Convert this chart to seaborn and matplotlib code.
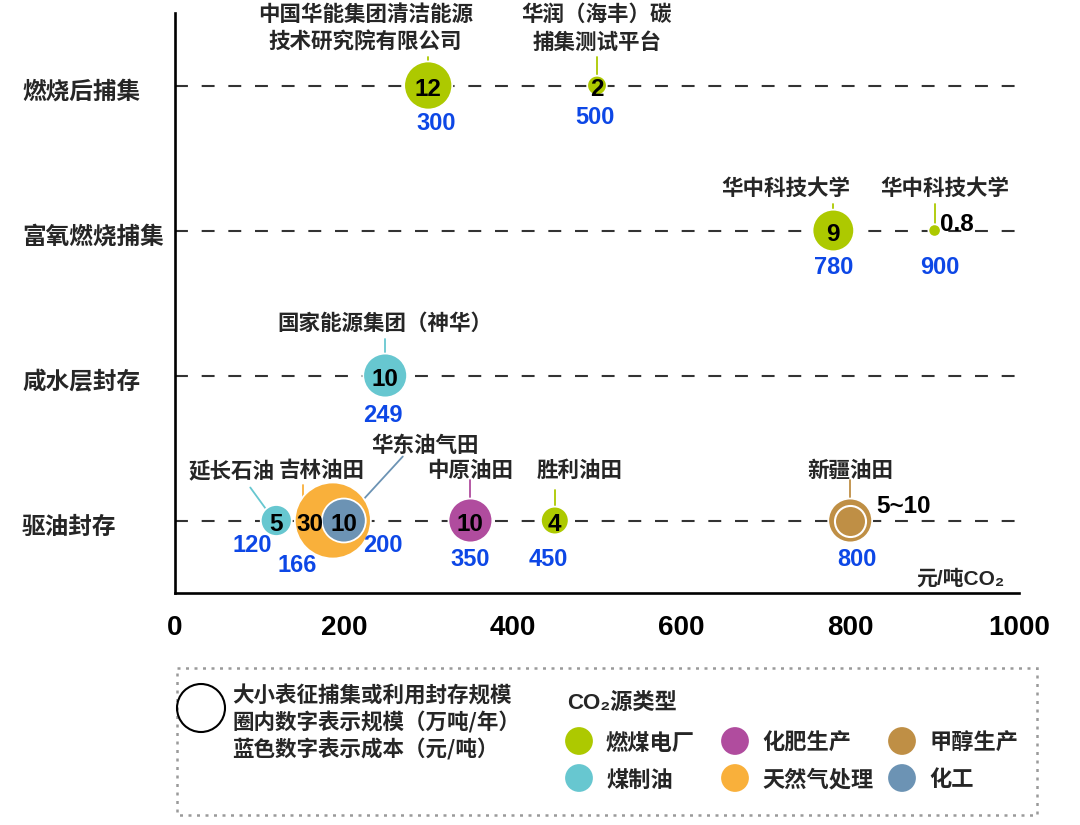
import numpy as np
import pandas as pd
import matplotlib
matplotlib.use("Agg")
import matplotlib.pyplot as plt
import matplotlib.transforms as mtransforms
from matplotlib.patches import Rectangle, Circle
import seaborn as sns

# ---- values ----
stages = ['燃烧后捕集', '富氧燃烧捕集', '咸水层封存', '驱油封存']
projects = ['中国华能集团清洁能源\n技术研究院有限公司', '华润（海丰）碳\n捕集测试平台',
            '华中科技大学', '华中科技大学', '国家能源集团（神华）',
            '延长石油', '吉林油田', '华东油气田', '中原油田', '胜利油田', '新疆油田']
project_stage = ['燃烧后捕集', '燃烧后捕集', '富氧燃烧捕集', '富氧燃烧捕集', '咸水层封存',
                 '驱油封存', '驱油封存', '驱油封存', '驱油封存', '驱油封存', '驱油封存']
source = ['燃煤电厂', '燃煤电厂', '燃煤电厂', '燃煤电厂', '煤制油',
          '煤制油', '天然气处理', '化工', '化肥生产', '燃煤电厂', '甲醇生产']
scale = [12, 2, 9, 0.8, 10, 5, 30, 10, 10, 4, 10]        # 万吨/年 (新疆 5~10 -> outer 10)
scale_label = ['12', '2', '9', '0.8', '10', '5', '30', '10', '10', '4', '5~10']
cost = [300, 500, 780, 900, 249, 120, 166, 200, 350, 450, 800]        # 元/吨
bubble_x = [300, 500, 780, 900, 249, 120, 187, 200, 350, 450, 800]    # bubble position on axis
xinjiang_low = 5

source_types = ['燃煤电厂', '化肥生产', '甲醇生产', '煤制油', '天然气处理', '化工']
source_colors = ['#adc900', '#b04c9e', '#bf8f45', '#67c7d0', '#f9b03b', '#6c93b4']
x_ticks = [0, 200, 400, 600, 800, 1000]

palette = dict(zip(source_types, source_colors))
stage_y = {s: len(stages) - i for i, s in enumerate(stages)}

df = pd.DataFrame({'project': projects, 'stage': project_stage, 'source': source,
                   'scale': scale, 'cost': cost, 'x': bubble_x})
df['y'] = df['stage'].map(stage_y)

sns.set_style("white")
NUM = ['Liberation Sans', 'DejaVu Sans']
CJK = ['Noto Sans CJK SC', 'DejaVu Sans']
MIX = ['Liberation Sans', 'Noto Sans CJK SC', 'DejaVu Sans']
plt.rcParams['font.family'] = MIX

W, H = 1080, 825
fig = plt.figure(figsize=(W / 100, H / 100), dpi=100)
ax = fig.add_axes([175 / W, (H - 593) / H, (1019 - 175) / W, (593 - 13) / H])
ax.set_xlim(0, 1000)
ax.set_ylim(0.5, 4.5)

# pixels per data unit (for label offsets)
ppx = (1019 - 175) / 1000
ppy = (593 - 13) / 4.0

# dashed guide lines per stage
for s in stages:
    ax.plot([0, 1000], [stage_y[s], stage_y[s]], color='#333333', lw=1.5,
            ls=(0, (6.2, 6.6)), zorder=1)

# bubbles: area proportional to scale (s = 100 * scale)
sns.scatterplot(data=df, x='x', y='y', hue='source', palette=palette,
                size='scale', sizes=(80, 3000), size_norm=(0.8, 30),
                edgecolor='white', linewidth=1.3, legend=False, zorder=3, ax=ax)
xj = df[df['project'] == '新疆油田'].iloc[0]
ax.scatter([xj['x']], [xj['y']], s=100 * xinjiang_low, color=palette['甲醇生产'],
           edgecolor='white', linewidth=1.5, zorder=4)

# label layout (pixel offsets from bubble centre, +y is up)
name_off = [(-63, 57), (0, 57), (-47, 42), (10, 42), (0, 52),
            (-45, 50), (-11, 50), (81, 75), (0, 50), (25, 50), (0, 50)]
link = [((0, 29), (0, 18)), ((0, 29), (0, 4)), ((0, 27), (0, 15)), ((0, 27), (0, 3)),
        ((0, 37), (0, 15)), ((-26, 33), (-10, 11)), ((-30, 36), (-30, 20)),
        ((59, 64), (15, 16)), ((0, 41), (0, 15)), ((0, 31), (0, 8)), ((0, 41), (0, 15))]
num_off = [(0, -4), (0, -4), (0, -4), (22, 6), (0, -4), (0, -4), (-23, -4), (0, -4),
           (0, -4), (0, -4), (53, 14)]
cost_off = [(8, -38), (-2, -32), (0, -37), (5, -37), (-2, -40), (-24, -25),
            (-36, -45), (39, -25), (0, -39), (-6, -39), (7, -39)]

for i, row in df.iterrows():
    cx, cy = row['x'], row['y']
    col = palette[row['source']]
    (sx, sy), (ex, ey) = link[i]
    ax.plot([cx + sx / ppx, cx + ex / ppx], [cy + sy / ppy, cy + ey / ppy],
            color=col, lw=1.3, zorder=2)
    ax.annotate(row['project'], (cx, cy), xytext=name_off[i], textcoords='offset pixels',
                ha='center', va='center', fontsize=15.5, fontweight='bold',
                family=CJK, linespacing=1.4, zorder=5)
    ax.annotate(scale_label[i], (cx, cy), xytext=num_off[i], textcoords='offset pixels',
                ha='center', va='center', fontsize=17.5, fontweight='bold',
                family=NUM, color='black', zorder=6)
    ax.annotate(str(row['cost']), (cx, cy), xytext=cost_off[i], textcoords='offset pixels',
                ha='center', va='center', fontsize=17, fontweight='bold',
                family=NUM, color='#0d47e6', zorder=6)

# stage names on the left (sit a little below their guide line)
trans = mtransforms.offset_copy(
    mtransforms.blended_transform_factory(fig.transFigure, ax.transData),
    fig=fig, x=0, y=-6, units='dots')
for s in stages:
    ax.text(22 / W, stage_y[s], s, transform=trans, ha='left', va='center',
            fontsize=17, fontweight='bold', family=CJK)

# axes styling
for sp in ['top', 'right']:
    ax.spines[sp].set_visible(False)
for sp in ['left', 'bottom']:
    ax.spines[sp].set_linewidth(1.9)
    ax.spines[sp].set_color('black')
ax.set_yticks([])
ax.set_xticks(x_ticks)
ax.set_xticklabels([str(t) for t in x_ticks], fontsize=20, fontweight='bold', family=NUM)
ax.tick_params(axis='x', direction='in', length=9, width=1.8, pad=16, colors='black')
ax.set_xlabel('')
ax.set_ylabel('')
ax.text(983, 0.6, '元/吨CO₂', ha='right', va='center', fontsize=15,
        fontweight='bold', family=MIX)

# ---- legend panel (pixel coordinates) ----
lax = fig.add_axes([0, 0, 1, 1], zorder=-1)
lax.set_xlim(0, W)
lax.set_ylim(H, 0)
lax.axis('off')
lax.add_patch(Rectangle((177, 668), 860, 147, fill=False, edgecolor='#9a9a9a',
                        lw=1.8, ls=(0, (1.2, 2.2))))
lax.add_patch(Circle((201, 708), 24, fill=False, edgecolor='black', lw=1.5))
for k, line in enumerate(['大小表征捕集或利用封存规模', '圈内数字表示规模（万吨/年）',
                          '蓝色数字表示成本（元/吨）']):
    lax.text(232, 696 + 26.5 * k, line, ha='left', va='center', fontsize=15.5,
             fontweight='bold', family=CJK)
lax.text(567, 703, 'CO₂源类型', ha='left', va='center', fontsize=16,
         fontweight='bold', family=MIX)
col_x = [579, 735, 902]
row_y = [741, 778]
for k, (name, colr) in enumerate(zip(source_types, source_colors)):
    px, py = col_x[k % 3], row_y[k // 3]
    lax.scatter([px], [py], s=400, color=colr, edgecolor='none')
    lax.text(px + 27, py + 2, name, ha='left', va='center', fontsize=16,
             fontweight='bold', family=CJK)

fig.savefig('out.png', dpi=100)
